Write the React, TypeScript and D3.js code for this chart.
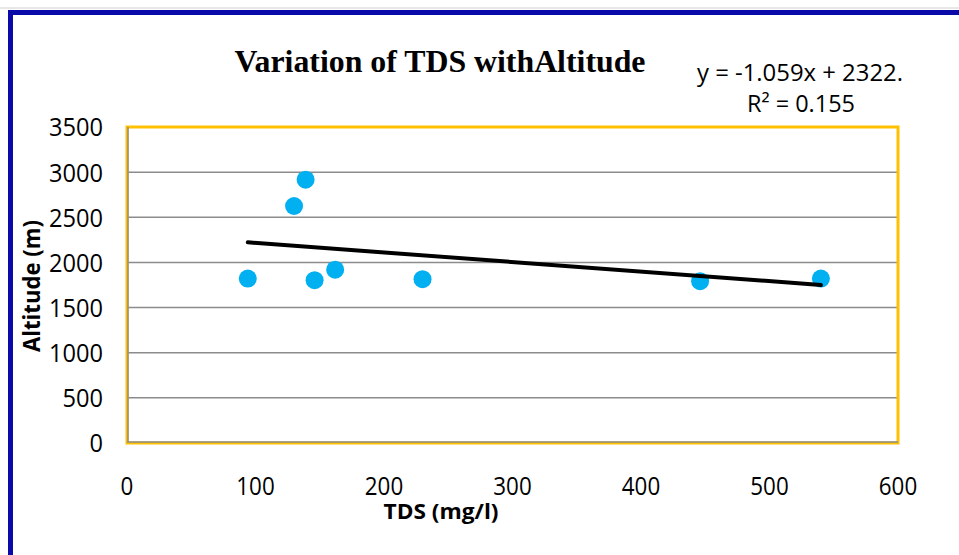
import React from "react";
import * as d3 from "d3";

const tds = [94, 130, 139, 146, 162, 230, 446, 540];
const altitude = [1821, 2625, 2916, 1803, 1920, 1814, 1792, 1821];
const xTicks = [0, 100, 200, 300, 400, 500, 600];
const yTicks = [0, 500, 1000, 1500, 2000, 2500, 3000, 3500];
const slope = -1.059;
const intercept = 2322;
const title = "Variation of TDS withAltitude";
const eqLine1 = "y = -1.059x + 2322.";
const eqLine2 = "R² = 0.155";
const xTitle = "TDS (mg/l)";
const yTitle = "Altitude (m)";

const W = 959;
const H = 555;
const plot = { left: 127, right: 898, top: 127, bottom: 443 };
const sans = "'Open Sans', sans-serif";

export default function App() {
  const x = d3.scaleLinear().domain([0, 600]).range([plot.left, plot.right]);
  const y = d3.scaleLinear().domain([0, 3500]).range([plot.bottom, plot.top]);
  const xMin = d3.min(tds) as number;
  const xMax = d3.max(tds) as number;
  const trend = d3
    .line<number>()
    .x((d) => x(d))
    .y((d) => y(slope * d + intercept))([xMin, xMax]);

  return (
    <svg
      width={W}
      height={H}
      style={{ position: "absolute", left: 0, top: 0, background: "#fff" }}
    >
      <rect x={0} y={0} width={W} height={H} fill="#fff" />
      <line x1={0} x2={W} y1={8} y2={8} stroke="#d0d0d0" strokeWidth={1} />
      <rect x={10.5} y={12.5} width={W + 20} height={H + 20} fill="none" stroke="#0a0aa8" strokeWidth={5} />

      <text x={440} y={72} textAnchor="middle" fontFamily="'Liberation Serif', serif" fontWeight="bold" fontSize={31} textLength={411} lengthAdjust="spacingAndGlyphs">
        {title}
      </text>
      <text x={800} y={81} textAnchor="middle" fontFamily={sans} fontSize={23} textLength={206} lengthAdjust="spacingAndGlyphs">
        {eqLine1}
      </text>
      <text x={801} y={112} textAnchor="middle" fontFamily={sans} fontSize={23} textLength={108} lengthAdjust="spacingAndGlyphs">
        {eqLine2}
      </text>

      {yTicks.filter((t) => t > 0 && t < 3500).map((t) => (
        <line key={"g" + t} x1={plot.left} x2={plot.right} y1={y(t)} y2={y(t)} stroke="#8c8c8c" strokeWidth={1.5} />
      ))}
      <rect
        x={plot.left}
        y={plot.top}
        width={plot.right - plot.left}
        height={plot.bottom - plot.top}
        fill="none"
        stroke="#ffc000"
        strokeWidth={3}
      />
      <line x1={plot.left + 1} x2={plot.left + 1} y1={plot.top} y2={plot.bottom - 1} stroke="#8c8c8c" strokeWidth={1.5} />
      <line x1={plot.left} x2={plot.right} y1={plot.bottom - 1} y2={plot.bottom - 1} stroke="#8c8c8c" strokeWidth={1.5} />

      {yTicks.map((t) => (
        <text key={"y" + t} x={103} y={y(t)} dy="0.36em" textAnchor="end" fontFamily={sans} fontSize={26} textLength={String(t).length * 13.5} lengthAdjust="spacingAndGlyphs">
          {t}
        </text>
      ))}
      {xTicks.map((t) => (
        <text key={"x" + t} x={x(t)} y={495} textAnchor="middle" fontFamily={sans} fontSize={25} textLength={String(t).length * 12.8} lengthAdjust="spacingAndGlyphs">
          {t}
        </text>
      ))}

      <text x={441} y={519} textAnchor="middle" fontFamily={sans} fontWeight="bold" fontSize={22} textLength={115} lengthAdjust="spacingAndGlyphs">
        {xTitle}
      </text>
      <text
        transform={`translate(40, 286) rotate(-90)`}
        textAnchor="middle"
        fontFamily={sans}
        fontWeight="bold"
        fontSize={23}
        textLength={132}
        lengthAdjust="spacingAndGlyphs"
      >
        {yTitle}
      </text>

      {tds.map((d, i) => (
        <circle key={"p" + i} cx={x(d)} cy={y(altitude[i])} r={9} fill="#00b0f0" />
      ))}
      <path d={trend ?? ""} fill="none" stroke="#000" strokeWidth={4} strokeLinecap="round" />
    </svg>
  );
}
